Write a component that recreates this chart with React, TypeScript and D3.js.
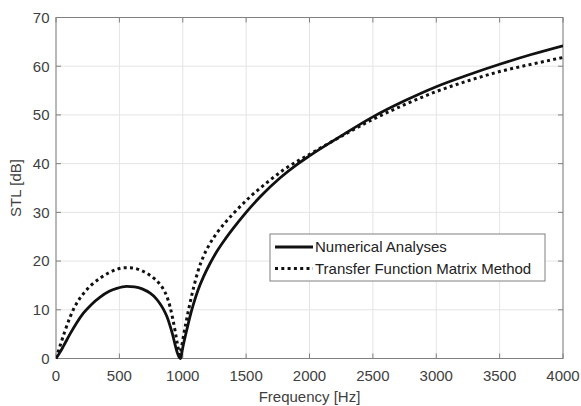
import React from "react";
import * as d3 from "d3";

const numFreq = [0, 30, 60, 110, 160, 216, 280, 348, 420, 480, 558, 620, 680, 743, 790, 822, 848, 875, 900, 920, 940, 958, 970, 978, 983, 990, 1000, 1015, 1032, 1055, 1085, 1120, 1164, 1215, 1270, 1335, 1401, 1500, 1611, 1769, 1900, 2000, 2250, 2500, 2750, 3000, 3250, 3500, 3750, 4000];
const numSTL = [0, 1.2, 2.6, 5.0, 7.2, 9.3, 11.1, 12.6, 13.8, 14.4, 14.8, 14.7, 14.3, 13.4, 12.3, 11.2, 10.1, 8.6, 6.7, 4.9, 2.8, 1.1, 0.35, 0.08, 0, 0.8, 2.2, 4.0, 5.9, 8.4, 11.2, 14.0, 16.8, 19.5, 22.0, 24.5, 26.8, 30.0, 33.2, 37.1, 39.8, 41.6, 45.7, 49.6, 52.9, 55.8, 58.2, 60.4, 62.4, 64.2];

const tfmFreq = [0, 32, 70, 111, 160, 216, 280, 348, 410, 479, 540, 600, 660, 710, 756, 808, 848, 875, 900, 920, 940, 955, 966, 972, 977, 985, 995, 1005, 1025, 1045, 1065, 1085, 1120, 1164, 1215, 1270, 1335, 1401, 1532, 1664, 1800, 2000, 2250, 2500, 2750, 3000, 3250, 3500, 3750, 4000];
const tfmSTL = [0, 2.6, 5.6, 8.5, 11.2, 13.3, 15.1, 16.5, 17.5, 18.3, 18.65, 18.6, 18.2, 17.6, 16.8, 15.6, 14.2, 12.7, 10.6, 8.3, 5.6, 3.4, 1.8, 0.9, 0, 1.4, 3.0, 4.5, 7.3, 9.9, 12.3, 14.5, 17.9, 21.0, 23.6, 25.8, 27.9, 29.8, 33.2, 36.1, 38.8, 41.9, 45.6, 49.1, 52.1, 54.8, 57.0, 58.9, 60.4, 61.8];

const xTicks = [0, 500, 1000, 1500, 2000, 2500, 3000, 3500, 4000];
const yTicks = [0, 10, 20, 30, 40, 50, 60, 70];
const seriesNames = ["Numerical Analyses", "Transfer Function Matrix Method"];
const xLabel = "Frequency [Hz]";
const yLabel = "STL [dB]";

const W = 581;
const H = 406;
const L = 56, R = 563, T = 17.5, B = 358.5;
const FONT = "Arial, 'Liberation Sans', Helvetica, sans-serif";
const TXT = "#404040";
const AX = "#808080";

export default function App() {
  const x = d3.scaleLinear().domain([0, 4000]).range([L, R]);
  const y = d3.scaleLinear().domain([0, 70]).range([B, T]);

  const line = d3
    .line<[number, number]>()
    .x((d) => x(d[0]))
    .y((d) => y(d[1]))
    .curve(d3.curveMonotoneX);

  const numPts = numFreq.map((f, i) => [f, numSTL[i]] as [number, number]);
  const tfmPts = tfmFreq.map((f, i) => [f, tfmSTL[i]] as [number, number]);

  const legX = 270, legY = 234, legW = 275, legH = 47;

  return (
    <svg
      width={W}
      height={H}
      style={{ position: "absolute", left: 0, top: 0, background: "#fff" }}
      fontFamily={FONT}
    >
      <rect x={0} y={0} width={W} height={H} fill="#fff" />
      <defs>
        <clipPath id="plotclip">
          <rect x={L} y={T - 3} width={R - L} height={B - T + 6} />
        </clipPath>
      </defs>
      {xTicks.map((t) => (
        <line key={"gx" + t} x1={x(t)} x2={x(t)} y1={T} y2={B} stroke="#e4e4e4" strokeWidth={1} />
      ))}
      {yTicks.map((t) => (
        <line key={"gy" + t} x1={L} x2={R} y1={y(t)} y2={y(t)} stroke="#e4e4e4" strokeWidth={1} />
      ))}
      <rect x={L} y={T} width={R - L} height={B - T} fill="none" stroke={AX} strokeWidth={1} />
      {xTicks.map((t) => (
        <g key={"tx" + t}>
          <line x1={x(t)} x2={x(t)} y1={B} y2={B - 5} stroke={AX} />
          <line x1={x(t)} x2={x(t)} y1={T} y2={T + 5} stroke={AX} />
          <text x={x(t)} y={381} fontSize={15} fill={TXT} textAnchor="middle">
            {t}
          </text>
        </g>
      ))}
      {yTicks.map((t) => (
        <g key={"ty" + t}>
          <line x1={L} x2={L + 5} y1={y(t)} y2={y(t)} stroke={AX} />
          <line x1={R} x2={R - 5} y1={y(t)} y2={y(t)} stroke={AX} />
          <text x={49.5} y={y(t) + 5.3} fontSize={15} fill={TXT} textAnchor="end">
            {t}
          </text>
        </g>
      ))}
      <g clipPath="url(#plotclip)">
        <path d={line(tfmPts) || ""} fill="none" stroke="#111" strokeWidth={3} strokeDasharray="3 3.3" />
        <path d={line(numPts) || ""} fill="none" stroke="#111" strokeWidth={2.8} strokeLinejoin="round" />
      </g>
      <text x={(L + R) / 2} y={402} fontSize={15} fill={TXT} textAnchor="middle">
        {xLabel}
      </text>
      <text
        transform={`translate(21,${(T + B) / 2}) rotate(-90)`}
        fontSize={15}
        fill={TXT}
        textAnchor="middle"
      >
        {yLabel}
      </text>
      <rect x={legX} y={legY} width={legW} height={legH} fill="#fff" stroke={AX} strokeWidth={1} />
      <line x1={275} x2={313} y1={247} y2={247} stroke="#111" strokeWidth={2.8} />
      <line x1={275} x2={313} y1={268.5} y2={268.5} stroke="#111" strokeWidth={3} strokeDasharray="3 3.3" />
      <text x={315} y={252.3} fontSize={15} fill="#222">
        {seriesNames[0]}
      </text>
      <text x={315} y={273.8} fontSize={15} fill="#222">
        {seriesNames[1]}
      </text>
    </svg>
  );
}
